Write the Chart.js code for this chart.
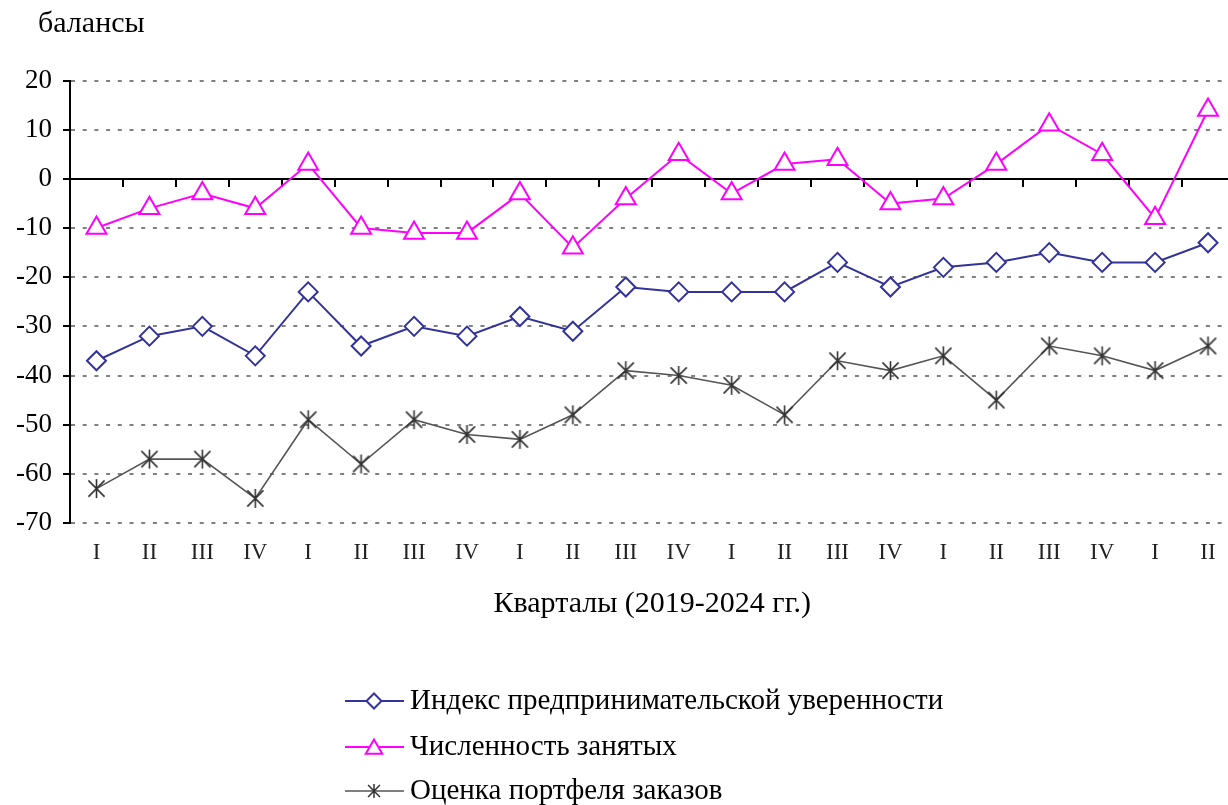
<!DOCTYPE html>
<html><head><meta charset="utf-8">
<script src="https://cdn.jsdelivr.net/npm/chart.js@4.4.1/dist/chart.umd.min.js"></script>
<style>html,body{margin:0;padding:0;overflow:hidden;background:#fff;width:1228px;height:805px}canvas{display:block}</style>
</head><body>
<canvas id="c" width="1248" height="805"></canvas>
<script>
const quarters = ['I','II','III','IV','I','II','III','IV','I','II','III','IV','I','II','III','IV','I','II','III','IV','I','II'];
const confidenceIndex = [-37,-32,-30,-36,-23,-34,-30,-32,-28,-31,-22,-23,-23,-23,-17,-22,-18,-17,-15,-17,-17,-13];
const employment = [-10,-6,-3,-6,3,-10,-11,-11,-3,-14,-4,5,-3,3,4,-5,-4,3,11,5,-8,14];
const orderBook = [-63,-57,-57,-65,-49,-58,-49,-52,-53,-48,-39,-40,-42,-48,-37,-39,-36,-45,-34,-36,-39,-34];
const seriesNames = ['Индекс предпринимательской уверенности','Численность занятых','Оценка портфеля заказов'];
const yMin = -70, yMax = 20, yStep = 10;
const yTitle = 'балансы';
const xTitle = 'Кварталы (2019-2024 гг.)';

const SERIF = '"Liberation Serif","Times New Roman",serif';

function makeStar(size, color, lw) {
  const c = document.createElement('canvas');
  c.width = c.height = size;
  const g = c.getContext('2d');
  g.strokeStyle = color; g.lineWidth = lw; g.lineCap = 'butt';
  const h = size / 2, r = h - 1, d = r * 0.85;
  g.beginPath();
  g.moveTo(h, h - r); g.lineTo(h, h + r);
  g.moveTo(h - d, h - d); g.lineTo(h + d, h + d);
  g.moveTo(h + d, h - d); g.lineTo(h - d, h + d);
  g.stroke();
  return c;
}
const starBig = makeStar(21, '#333', 1.6);
const starSmall = makeStar(16, '#333', 1.5);

const datasets = [
  { label: seriesNames[0], data: confidenceIndex, borderColor: '#333399', backgroundColor: '#fff',
    borderWidth: 2, pointStyle: 'rectRot', pointRadius: 9.5, pointBorderWidth: 2, pointBackgroundColor: '#fff',
    pointBorderColor: '#333399', tension: 0, order: 2 },
  { label: seriesNames[1], data: employment, borderColor: '#FF00FF', backgroundColor: '#fff',
    borderWidth: 2, pointStyle: 'triangle', pointRadius: 11.5, pointBorderWidth: 2, pointBackgroundColor: '#fff',
    pointBorderColor: '#FF00FF', tension: 0, order: 1 },
  { label: seriesNames[2], data: orderBook, borderColor: '#555', backgroundColor: '#fff',
    borderWidth: 1.6, pointStyle: starBig, pointRadius: 10, tension: 0, order: 3 }
];

const legendMarkers = [
  { color: '#333399', style: 'rectRot', r: 7.5, dy: 0 },
  { color: '#FF00FF', style: 'triangle', r: 9.5, dy: 2 },
  { color: '#333', style: starSmall, r: 8, dy: 0 }
];

const extras = {
  id: 'extras',
  afterDraw(chart) {
    const ctx = chart.ctx;
    ctx.save();
    ctx.fillStyle = '#000';
    ctx.font = '30px ' + SERIF;
    ctx.textAlign = 'left'; ctx.textBaseline = 'middle';
    ctx.fillText(yTitle, 38, 24);
    const rows = [701, 747, 791];
    chart.data.datasets.forEach((ds, i) => {
      const y = rows[i];
      ctx.strokeStyle = ds.borderColor; ctx.lineWidth = i === 2 ? 1.6 : 2;
      ctx.beginPath(); ctx.moveTo(345, y); ctx.lineTo(404, y); ctx.stroke();
      const m = legendMarkers[i];
      ctx.fillStyle = '#fff'; ctx.strokeStyle = m.color; ctx.lineWidth = 2;
      Chart.helpers.drawPoint(ctx, { pointStyle: m.style, radius: m.r, borderWidth: 2, rotation: 0 }, 374, y + m.dy);
      ctx.fillStyle = '#000';
      ctx.font = '29px ' + SERIF;
      ctx.textAlign = 'left'; ctx.textBaseline = 'middle';
      ctx.fillText(ds.label, 410, y);
    });
    ctx.restore();
  }
};

new Chart(document.getElementById('c'), {
  type: 'line',
  data: { labels: quarters, datasets },
  options: {
    responsive: false,
    animation: false,
    layout: { padding: { left: 0, right: 13.5, top: 80.5, bottom: 0 } },
    plugins: { legend: { display: false }, tooltip: { enabled: false } },
    scales: {
      x: {
        type: 'category', offset: true, position: 'bottom',
        grid: { display: true, drawOnChartArea: false, drawTicks: true, tickLength: 13, color: 'rgba(0,0,0,0)' },
        border: { display: false },
        ticks: { color: '#222', font: { family: SERIF, size: 23 }, padding: 3, maxRotation: 0, autoSkip: false },
        title: { display: true, text: xTitle, color: '#000', font: { family: SERIF, size: 30 }, padding: { top: 0, bottom: 183 } },
        afterFit: s => { s.height = 282; }
      },
      x2: {
        type: 'category', labels: quarters, offset: true, position: { y: 0 },
        grid: { display: true, offset: true, drawOnChartArea: false, drawTicks: true, tickLength: 7, color: '#000', lineWidth: 2 },
        border: { display: true, color: '#000', width: 2 },
        ticks: { display: false }
      },
      y: {
        min: yMin, max: yMax,
        ticks: { stepSize: yStep, color: '#000', font: { family: SERIF, size: 27 }, padding: 11 },
        grid: { color: '#808080', lineWidth: 2, tickLength: 7, tickColor: '#000', tickWidth: 2, tickBorderDash: [] },
        border: { display: true, color: '#000', width: 2, dash: [4, 7.7] },
        afterFit: s => { s.width = 70; }
      }
    }
  },
  plugins: [extras]
});
</script>
</body></html>
